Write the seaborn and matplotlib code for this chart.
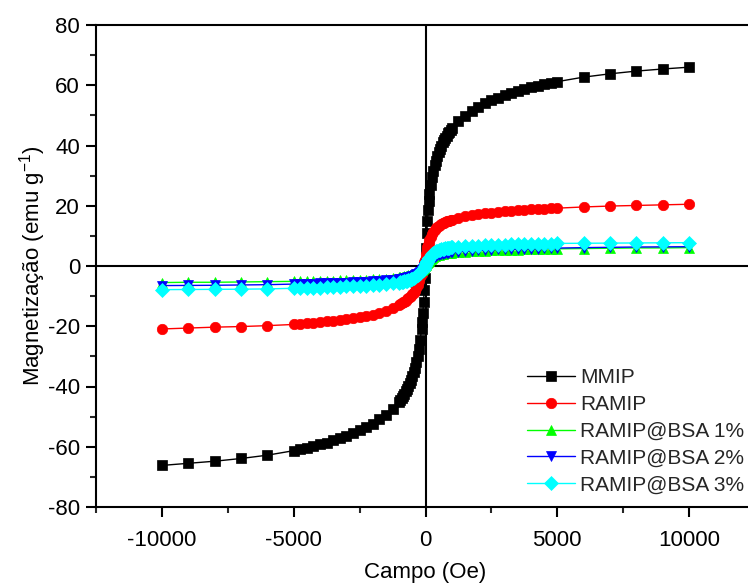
import matplotlib
matplotlib.use("Agg")
import matplotlib.pyplot as plt
import seaborn as sns
from matplotlib.ticker import MultipleLocator

# Applied field (Oe): negative half and positive half of the sweep
field_neg = [-10000, -9000, -8000, -7000, -6000, -5000,
             -4750, -4500, -4250, -4000, -3750, -3500, -3250, -3000,
             -2750, -2500, -2250, -2000, -1750, -1500, -1250,
             -1000, -950, -900, -850, -800, -750, -700, -650, -600,
             -550, -500, -450, -400, -350, -300, -250, -200, -150,
             -125, -100, -75, -50, -25]
field_pos = [0, 25, 50, 75, 100, 125,
             150, 200, 250, 300, 350, 400, 450, 500, 550,
             600, 650, 700, 750, 800, 850, 900, 950, 1000,
             1250, 1500, 1750, 2000, 2250, 2500, 2750, 3000,
             3250, 3500, 3750, 4000, 4250, 4500, 4750,
             5000, 6000, 7000, 8000, 9000, 10000]

# Magnetization (emu/g)
mmip_neg = [-66.2, -65.5, -64.8, -63.9, -62.8, -61.3,
            -60.8, -60.3, -59.8, -59.2, -58.6, -57.9, -57.2, -56.4,
            -55.6, -54.6, -53.5, -52.3, -50.9, -49.3, -47.4,
            -45.0, -44.4, -43.8, -43.1, -42.4, -41.6, -40.8, -39.9, -38.9,
            -37.8, -36.6, -35.3, -33.8, -32.0, -30.0, -27.6, -24.5, -20.8,
            -18.5, -15.5, -12.0, -8.0, -4.0]
mmip_pos = [1.0, 6.0, 11.0, 15.0, 18.5, 21.5,
            24.0, 27.0, 29.5, 31.5, 33.4, 35.0, 36.5, 37.8, 39.0,
            40.0, 41.0, 41.8, 42.6, 43.3, 44.0, 44.6, 45.2, 45.7,
            48.0, 49.9, 51.5, 52.8, 54.0, 55.0, 55.9, 56.7,
            57.4, 58.1, 58.7, 59.3, 59.8, 60.3, 60.8,
            61.2, 62.7, 63.8, 64.7, 65.4, 66.0]

ramip_neg = [-20.9, -20.6, -20.3, -20.1, -19.8, -19.4,
             -19.2, -19.0, -18.8, -18.6, -18.4, -18.2, -17.9, -17.6,
             -17.3, -17.0, -16.6, -16.1, -15.5, -14.8, -14.0,
             -13.0, -12.7, -12.4, -12.1, -11.8, -11.5, -11.1, -10.7, -10.3,
             -9.8, -9.3, -8.8, -8.3, -7.4, -6.2, -5.0, -3.8, -2.5,
             -1.6, -0.6, 0.4, 1.3, 2.0]
ramip_pos = [2.8, 4.0, 5.2, 6.2, 7.0, 7.8,
             8.5, 9.6, 10.5, 11.2, 11.9, 12.5, 12.9, 13.3, 13.6,
             13.9, 14.2, 14.4, 14.6, 14.8, 15.0, 15.1, 15.3, 15.4,
             16.0, 16.5, 16.9, 17.2, 17.5, 17.7, 17.9, 18.1,
             18.3, 18.5, 18.7, 18.8, 18.9, 19.0, 19.1,
             19.2, 19.6, 19.9, 20.1, 20.3, 20.5]

bsa1_neg = [-5.5, -5.4, -5.4, -5.3, -5.2, -5.1,
            -5.1, -5.05, -5.0, -4.95, -4.9, -4.85, -4.8, -4.75,
            -4.7, -4.6, -4.5, -4.4, -4.3, -4.2, -4.0,
            -3.8, -3.7, -3.6, -3.5, -3.4, -3.3, -3.2, -3.1, -3.0,
            -2.9, -2.8, -2.65, -2.5, -2.3, -2.1, -1.85, -1.6, -1.3,
            -1.1, -0.9, -0.6, -0.3, 0.0]
bsa1_pos = [0.3, 0.6, 0.9, 1.2, 1.4, 1.7,
            1.9, 2.3, 2.7, 3.0, 3.3, 3.5, 3.65, 3.8, 3.9,
            4.0, 4.1, 4.2, 4.25, 4.3, 4.35, 4.4, 4.45, 4.5,
            4.7, 4.8, 4.9, 5.0, 5.1, 5.2, 5.3, 5.35,
            5.4, 5.45, 5.5, 5.55, 5.6, 5.65, 5.7,
            5.7, 5.8, 5.9, 6.0, 6.0, 6.1]

bsa2_neg = [-6.5, -6.45, -6.4, -6.3, -6.2, -6.0,
            -5.95, -5.9, -5.85, -5.8, -5.75, -5.7, -5.6, -5.5,
            -5.4, -5.3, -5.2, -5.1, -5.0, -4.8, -4.6,
            -4.4, -4.35, -4.3, -4.2, -4.1, -4.0, -3.9, -3.8, -3.7,
            -3.55, -3.4, -3.2, -3.0, -2.75, -2.5, -2.2, -1.9, -1.5,
            -1.25, -1.0, -0.7, -0.4, -0.1]
bsa2_pos = [0.2, 0.5, 0.8, 1.0, 1.2, 1.5,
            1.7, 2.1, 2.5, 2.8, 3.1, 3.3, 3.5, 3.7, 3.85,
            4.0, 4.1, 4.2, 4.3, 4.4, 4.45, 4.5, 4.55, 4.6,
            4.8, 5.0, 5.1, 5.2, 5.3, 5.4, 5.5, 5.55,
            5.6, 5.65, 5.7, 5.75, 5.8, 5.85, 5.9,
            5.95, 6.1, 6.2, 6.3, 6.35, 6.4]

bsa3_neg = [-7.85, -7.8, -7.75, -7.7, -7.6, -7.4,
            -7.35, -7.3, -7.25, -7.2, -7.1, -7.0, -6.9, -6.8,
            -6.7, -6.6, -6.5, -6.35, -6.2, -6.0, -5.8,
            -5.5, -5.4, -5.3, -5.2, -5.1, -5.0, -4.9, -4.75, -4.6,
            -4.4, -4.2, -3.95, -3.7, -3.35, -3.0, -2.6, -2.2, -1.7,
            -1.45, -1.2, -0.85, -0.5, -0.1]
bsa3_pos = [0.5, 0.9, 1.3, 1.7, 2.1, 2.5,
            2.8, 3.4, 3.9, 4.3, 4.6, 4.9, 5.1, 5.3, 5.45,
            5.6, 5.7, 5.8, 5.9, 6.0, 6.05, 6.1, 6.15, 6.2,
            6.4, 6.55, 6.7, 6.8, 6.9, 7.0, 7.05, 7.1,
            7.15, 7.2, 7.25, 7.3, 7.35, 7.4, 7.45,
            7.5, 7.55, 7.6, 7.65, 7.7, 7.75]

labels = ["MMIP", "RAMIP", "RAMIP@BSA 1%", "RAMIP@BSA 2%", "RAMIP@BSA 3%"]
colors = ["#000000", "#ff0000", "#00ff00", "#0000ff", "#00ffff"]
markers = ["s", "o", "^", "v", "D"]
marker_sizes = [7, 7.5, 7.5, 7.5, 7]

sns.set_theme(style="ticks")
plt.rcParams.update({
    "font.family": ["Liberation Sans", "DejaVu Sans"],
    "axes.unicode_minus": False,
    "mathtext.fontset": "custom",
    "mathtext.rm": "Liberation Sans",
    "mathtext.it": "Liberation Sans:italic",
    "mathtext.default": "regular",
    "axes.edgecolor": "black",
    "axes.linewidth": 1.5,
})

fig = plt.figure(figsize=(7.48, 5.86), dpi=100)
ax = fig.add_axes([96 / 748, 1 - 507 / 586, (755 - 96) / 748, 482 / 586])

field = field_neg + field_pos
series = [mmip_neg + mmip_pos, ramip_neg + ramip_pos,
          bsa1_neg + bsa1_pos, bsa2_neg + bsa2_pos, bsa3_neg + bsa3_pos]

ax.axhline(0, color="black", lw=1.5, zorder=0.5)
ax.axvline(0, color="black", lw=1.5, zorder=0.5)

for vals, name, c, m, ms in zip(series, labels, colors, markers, marker_sizes):
    sns.lineplot(x=field, y=vals, ax=ax, color=c, marker=m, markersize=ms,
                 markeredgecolor=c, markeredgewidth=0.5, linewidth=1.0,
                 label=name, sort=False, estimator=None)

ax.set_xlim(-12500, 12500)
ax.set_ylim(-80, 80)
ax.set_xticks([-10000, -5000, 0, 5000, 10000])
ax.xaxis.set_minor_locator(MultipleLocator(2500))
ax.yaxis.set_major_locator(MultipleLocator(20))
ax.yaxis.set_minor_locator(MultipleLocator(10))
ax.tick_params(which="major", direction="out", length=7.5, width=1.5,
               labelsize=16, colors="black", top=False, right=False)
ax.tick_params(which="minor", direction="out", length=4.5, width=1.5,
               top=False, right=False)
ax.tick_params(axis="x", which="major", pad=9)
ax.tick_params(axis="y", which="major", pad=4)

ax.set_xlabel("Campo (Oe)", fontsize=16, labelpad=8, color="black")
ax.set_ylabel("Magnetização (emu g$^{-1}$)", fontsize=16, labelpad=0, color="black")

ax.legend(loc="upper left", bbox_to_anchor=(527 / 748, 1 - 368 / 586),
          bbox_transform=fig.transFigure, frameon=False, fontsize=15,
          handlelength=2.3, handletextpad=0.25, borderpad=0,
          borderaxespad=0, labelspacing=0.38)

fig.savefig("out.png", dpi=100, facecolor="white")
